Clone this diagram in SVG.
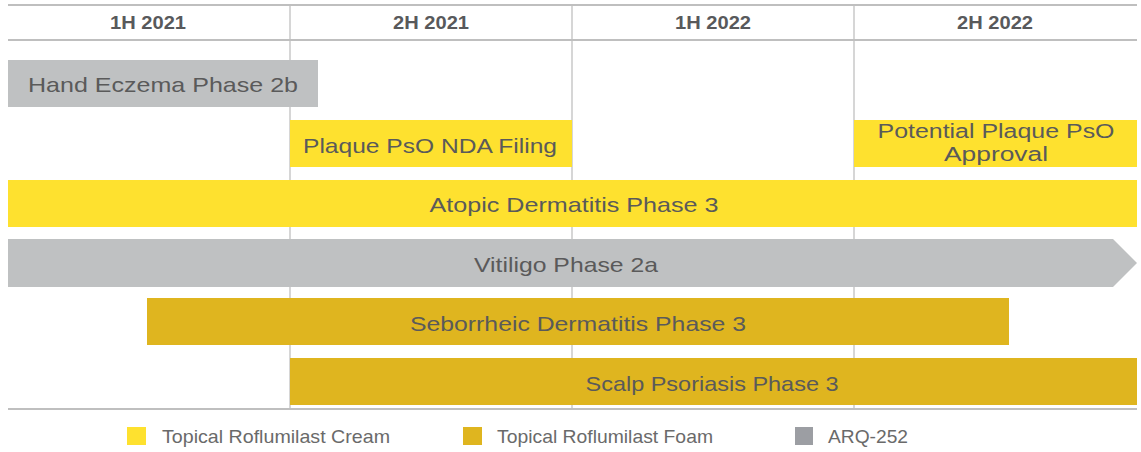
<svg xmlns="http://www.w3.org/2000/svg" width="1141" height="452" viewBox="0 0 1141 452">
<style>
.grid{stroke:#c8c8c8;stroke-width:1.5;fill:none}
.hline{stroke:#bfbfbf;stroke-width:2;fill:none}
.hdr{font-family:"Liberation Sans",Arial,sans-serif;font-weight:bold;font-size:18px;fill:#58595b;text-anchor:middle}
.lbl{font-family:"Liberation Sans",Arial,sans-serif;font-size:21px;fill:#5a5a5a;text-anchor:middle}
.leg{font-family:"Liberation Sans",Arial,sans-serif;font-size:19px;fill:#6a6a6a}
.cream{fill:#fee12f}
.foam{fill:#dfb51f}
.arq{fill:#bfc1c2}
</style>
<rect width="1141" height="452" fill="#ffffff"/>
<g id="grid">
<line class="grid" x1="290" y1="5" x2="290" y2="409"/>
<line class="grid" x1="572" y1="5" x2="572" y2="409"/>
<line class="grid" x1="854" y1="5" x2="854" y2="409"/>
<line class="hline" x1="8" y1="5" x2="1137" y2="5"/>
<line class="hline" x1="8" y1="40" x2="1137" y2="40"/>
<line class="hline" x1="8" y1="409" x2="1137" y2="409"/>
</g>
<g id="headers">
<text class="hdr" x="148" y="29" textLength="76" lengthAdjust="spacingAndGlyphs">1H 2021</text>
<text class="hdr" x="431" y="29" textLength="76" lengthAdjust="spacingAndGlyphs">2H 2021</text>
<text class="hdr" x="713" y="29" textLength="76" lengthAdjust="spacingAndGlyphs">1H 2022</text>
<text class="hdr" x="995" y="29" textLength="76" lengthAdjust="spacingAndGlyphs">2H 2022</text>
</g>
<g id="hand-eczema">
<rect class="arq" x="8" y="60" width="310" height="47"/>
<text class="lbl" x="163" y="92" textLength="270" lengthAdjust="spacingAndGlyphs">Hand Eczema Phase 2b</text>
</g>
<g id="plaque-nda">
<rect class="cream" x="290" y="120" width="282" height="47"/>
<text class="lbl" x="430" y="153" textLength="254" lengthAdjust="spacingAndGlyphs">Plaque PsO NDA Filing</text>
</g>
<g id="plaque-approval">
<rect class="cream" x="854" y="120" width="283" height="47"/>
<text class="lbl" x="996" y="138" style="font-size:20px" textLength="237" lengthAdjust="spacingAndGlyphs">Potential Plaque PsO</text>
<text class="lbl" x="996" y="161" style="font-size:20px" textLength="104" lengthAdjust="spacingAndGlyphs">Approval</text>
</g>
<g id="atopic">
<rect class="cream" x="8" y="180" width="1129" height="47"/>
<text class="lbl" x="574" y="212" textLength="289" lengthAdjust="spacingAndGlyphs">Atopic Dermatitis Phase 3</text>
</g>
<g id="vitiligo">
<polygon class="arq" points="8,239 1113,239 1137,263 1113,287 8,287"/>
<text class="lbl" x="566" y="272" textLength="184" lengthAdjust="spacingAndGlyphs">Vitiligo Phase 2a</text>
</g>
<g id="seborrheic">
<rect class="foam" x="147" y="298" width="862" height="47"/>
<text class="lbl" x="578" y="331" textLength="336" lengthAdjust="spacingAndGlyphs">Seborrheic Dermatitis Phase 3</text>
</g>
<g id="scalp">
<rect class="foam" x="290" y="358" width="847" height="47"/>
<text class="lbl" x="712" y="391" textLength="253" lengthAdjust="spacingAndGlyphs">Scalp Psoriasis Phase 3</text>
</g>
<g id="legend">
<rect x="127" y="427" width="19" height="18" fill="#fee12f"/>
<text class="leg" x="162" y="443" textLength="228" lengthAdjust="spacingAndGlyphs">Topical Roflumilast Cream</text>
<rect x="463" y="427" width="19" height="18" fill="#dfb51f"/>
<text class="leg" x="497" y="443" textLength="216" lengthAdjust="spacingAndGlyphs">Topical Roflumilast Foam</text>
<rect x="795" y="427" width="18" height="18" fill="#9c9ea3"/>
<text class="leg" x="828" y="443" textLength="80" lengthAdjust="spacingAndGlyphs">ARQ-252</text>
</g>
</svg>
